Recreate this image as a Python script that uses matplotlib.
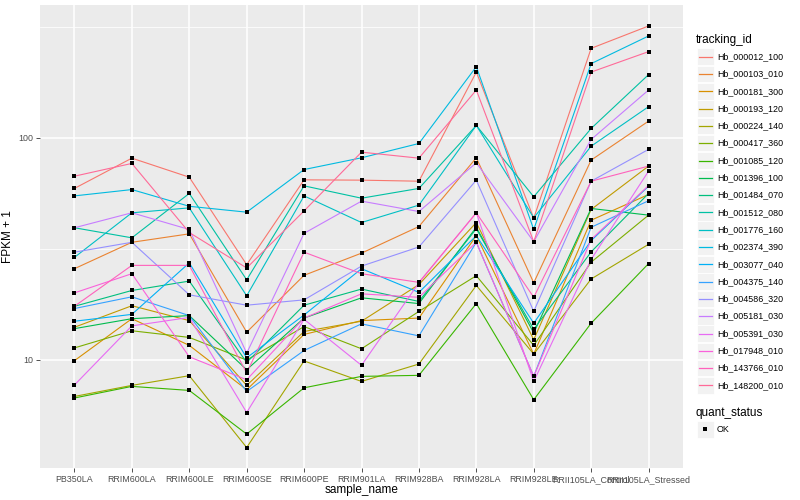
import numpy as np
import matplotlib
matplotlib.use("Agg")
import matplotlib.pyplot as plt
from matplotlib.patches import Rectangle
from matplotlib.lines import Line2D

samples = ["PB350LA", "RRIM600LA", "RRIM600LE", "RRIM600SE", "RRIM600PE",
           "RRIM901LA", "RRIM928BA", "RRIM928LA", "RRIM928LE",
           "RRII105LA_Control", "RRII105LA_Stressed"]

genes = ["Hb_000012_100", "Hb_000103_010", "Hb_000181_300", "Hb_000193_120",
         "Hb_000224_140", "Hb_000417_360", "Hb_001085_120", "Hb_001396_100",
         "Hb_001484_070", "Hb_001512_080", "Hb_001776_160", "Hb_002374_390",
         "Hb_003077_040", "Hb_004375_140", "Hb_004586_320", "Hb_005181_030",
         "Hb_005391_030", "Hb_017948_010", "Hb_143766_010", "Hb_148200_010"]

# FPKM + 1, one list per gene, in sample order
hb_000012_100 = [59.1, 80.9, 66.4, 26.8, 64.6, 64.4, 63.7, 197.6, 43.4, 252.8, 318.7]
hb_000103_010 = [25.7, 33.8, 36.9, 13.3, 24.0, 30.2, 39.8, 81.2, 22.2, 79.3, 118.8]
hb_000181_300 = [9.9, 15.3, 11.6, 7.32, 13.0, 15.0, 15.4, 36.2, 10.6, 42.5, 55.5]
hb_000193_120 = [14.0, 17.5, 15.0, 7.66, 13.4, 14.9, 21.8, 41.5, 12.3, 47.5, 74.5]
hb_000224_140 = [6.83, 7.66, 8.47, 4.02, 9.87, 7.98, 9.56, 21.6, 10.6, 23.1, 33.1]
hb_000417_360 = [11.3, 13.5, 12.6, 9.96, 14.1, 11.2, 16.5, 23.9, 11.6, 27.5, 44.8]
hb_001085_120 = [6.72, 7.58, 7.27, 4.62, 7.47, 8.41, 8.50, 17.9, 6.60, 14.6, 27.1]
hb_001396_100 = [13.8, 15.3, 15.8, 9.01, 15.4, 19.0, 17.9, 39.5, 13.2, 48.0, 44.8]
hb_001484_070 = [17.4, 20.5, 22.6, 9.72, 17.6, 20.8, 18.3, 38.9, 13.7, 30.6, 56.1]
hb_001512_080 = [39.3, 35.4, 56.1, 22.9, 60.7, 53.4, 59.1, 113.6, 54.2, 110.1, 192.4]
hb_001776_160 = [28.9, 45.9, 48.3, 19.4, 54.7, 41.5, 49.7, 113.6, 43.6, 91.6, 138.0]
hb_002374_390 = [54.7, 58.4, 49.1, 46.2, 71.9, 81.2, 94.2, 209.0, 38.6, 215.7, 287.3]
hb_003077_040 = [14.9, 16.0, 27.3, 10.2, 15.9, 25.7, 20.1, 36.2, 14.6, 34.4, 60.5]
hb_004375_140 = [17.0, 19.2, 15.8, 7.19, 11.0, 14.5, 12.8, 33.8, 8.41, 39.5, 52.0]
hb_004586_320 = [30.5, 33.8, 19.6, 17.6, 18.6, 26.4, 32.2, 64.4, 16.5, 63.7, 88.6]
hb_005181_030 = [39.3, 45.9, 38.6, 10.7, 37.1, 51.8, 46.5, 77.1, 34.0, 98.2, 164.0]
hb_005391_030 = [7.69, 14.2, 15.5, 5.78, 15.2, 9.43, 22.2, 45.9, 7.98, 28.3, 70.7]
hb_017948_010 = [20.0, 24.4, 10.3, 8.12, 15.4, 19.8, 19.1, 33.8, 8.41, 34.8, 60.9]
hb_143766_010 = [17.4, 26.6, 26.6, 8.71, 30.5, 24.4, 22.3, 45.9, 19.1, 63.7, 74.5]
hb_148200_010 = [67.1, 76.6, 37.4, 25.9, 46.8, 86.1, 80.9, 164.0, 34.0, 197.6, 244.3]

series = [hb_000012_100, hb_000103_010, hb_000181_300, hb_000193_120,
          hb_000224_140, hb_000417_360, hb_001085_120, hb_001396_100,
          hb_001484_070, hb_001512_080, hb_001776_160, hb_002374_390,
          hb_003077_040, hb_004375_140, hb_004586_320, hb_005181_030,
          hb_005391_030, hb_017948_010, hb_143766_010, hb_148200_010]


def hcl_hex(h, c=100.0, l=65.0):
    # polar Luv -> sRGB, same as scales::hue_pal
    xn, yn, zn = 95.047, 100.0, 108.883
    un = 4 * xn / (xn + 15 * yn + 3 * zn)
    vn = 9 * yn / (xn + 15 * yn + 3 * zn)
    u = c * np.cos(np.radians(h))
    v = c * np.sin(np.radians(h))
    Y = yn * ((l + 16) / 116) ** 3
    up = u / (13 * l) + un
    vp = v / (13 * l) + vn
    X = Y * 9 * up / (4 * vp)
    Z = Y * (12 - 3 * up - 20 * vp) / (4 * vp)
    X, Y, Z = X / 100, Y / 100, Z / 100
    r = 3.240479 * X - 1.537150 * Y - 0.498535 * Z
    g = -0.969256 * X + 1.875992 * Y + 0.041556 * Z
    b = 0.055648 * X - 0.204043 * Y + 1.057311 * Z
    out = []
    for ch in (r, g, b):
        ch = 12.92 * ch if ch <= 0.0031308 else 1.055 * ch ** (1 / 2.4) - 0.055
        out.append(min(max(ch, 0), 1))
    return tuple(out)


n = len(genes)
hues = np.linspace(15, 375, n + 1)[:n]
colors = [hcl_hex(h) for h in hues]

plt.rcParams['font.family'] = ['Liberation Sans', 'DejaVu Sans']

W, H = 800, 500
fig = plt.figure(figsize=(8, 5), dpi=100)
# panel in pixels: left 40, right 683, top 5, bottom 468
ax = fig.add_axes([40 / W, 1 - 468 / H, (683 - 40) / W, (468 - 5) / H])
ax.set_facecolor('#EBEBEB')

x = np.arange(1, len(samples) + 1)
for vals, col in zip(series, colors):
    ax.plot(x, vals, color=col, lw=0.8, zorder=3)
for vals in series:
    ax.plot(x, vals, 's', color='black', ms=3.0, mec='black', mew=0, zorder=4)

ax.set_yscale('log')
ax.set_xlim(0.4, len(samples) + 0.6)
ax.set_ylim(10 ** 0.512, 10 ** 2.598)
ax.set_yticks([10, 100])
ax.set_yticklabels(['10', '100'])
ax.set_yticks([10 ** 1.5, 10 ** 2.5], minor=True)
ax.yaxis.set_minor_formatter(plt.NullFormatter())
ax.set_xticks(x)
ax.set_xticklabels(samples)

ax.grid(True, which='major', color='white', lw=1.1, zorder=0)
ax.grid(True, which='minor', axis='y', color='white', lw=0.55, zorder=0)
ax.set_axisbelow(True)
for s in ax.spines.values():
    s.set_visible(False)
ax.tick_params(which='major', length=3, width=0.6, color='#333333',
               labelsize=6.4, labelcolor='#4D4D4D', pad=2)
ax.tick_params(which='minor', length=0)
ax.set_xlabel('sample_name', fontsize=8.5, labelpad=0)
ax.set_ylabel('FPKM + 1', fontsize=8.5, labelpad=3)
ax.yaxis.set_label_coords(-26 / 643, 0.5)

# legends drawn in pixel coordinates
lg = fig.add_axes([0, 0, 1, 1], facecolor='none')
lg.set_xlim(0, W)
lg.set_ylim(H, 0)
lg.axis('off')

lg.text(696, 40, 'tracking_id', fontsize=8.5, va='center', ha='left')
y0, dy = 56.7, 17.3
for i, (g, col) in enumerate(zip(genes, colors)):
    yc = y0 + i * dy
    lg.add_patch(Rectangle((697, yc - 8.3), 16.6, 16.6, facecolor='#F2F2F2',
                           edgecolor='white', lw=0.6))
    lg.add_line(Line2D([698.5, 711.5], [yc, yc], color=col, lw=0.9))
    lg.text(717, yc, g, fontsize=6.4, va='center', ha='left')

lg.text(696, 412.7, 'quant_status', fontsize=8.5, va='center', ha='left')
lg.add_patch(Rectangle((697, 421), 16.6, 16.6, facecolor='#F2F2F2',
                       edgecolor='white', lw=0.6))
lg.plot([705.3], [429.3], 's', color='black', ms=3.0, mew=0)
lg.text(717, 429.3, 'OK', fontsize=6.4, va='center', ha='left')

fig.savefig('out.png', dpi=100)
